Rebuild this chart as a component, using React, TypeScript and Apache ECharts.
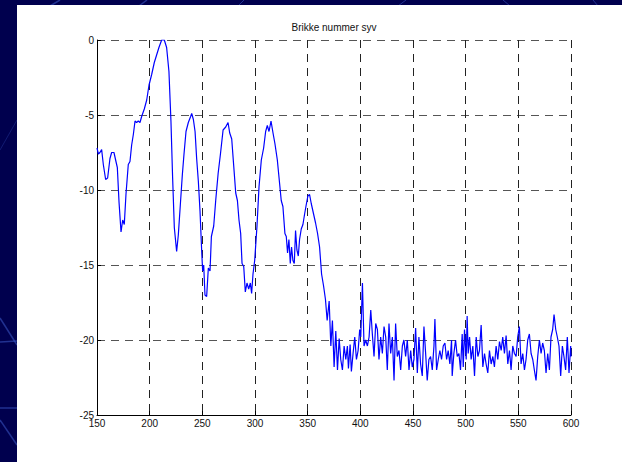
import React, { useEffect, useRef } from "react";
import * as echarts from "echarts";

const chartTitle = "Brikke nummer syv";

const xValues: number[] = [
  150, 151.3, 152.8, 154.4, 156.0, 158.2, 160.1, 162.3, 163.9, 166.1, 168.0, 169.3, 170.9, 172.8, 174.4, 175.9,
  177.5, 179.7, 181.3, 182.9, 184.5, 186.1, 187.6, 189.2, 190.8, 192.4, 194.9, 197.2, 199.4, 201.9, 204.4, 206.6,
  208.8, 211.4, 213.9, 216.1, 218.3, 220.2, 221.8, 223.4, 225.6, 227.2, 229.1, 231.0, 232.6, 234.5, 236.7, 238.9,
  239.9, 241.5, 243.1, 244.6, 246.2, 247.8, 249.4, 250.3, 251.3, 252.5, 254.1, 255.7, 257.3,
  258.6, 260.8, 262.7, 265.0, 267.2, 269.7, 272.2, 274.4, 276.0, 277.9, 279.8, 281.7, 283.3, 284.8, 286.4, 287.7,
  289.3, 290.8, 292.4, 294.0, 295.6, 296.8, 298.1, 299.7, 301.9, 303.8, 306.0, 308.2, 310.1, 311.7, 313.3, 315.2,
  317.1, 318.9, 321.2, 323.4, 324.9, 326.5, 328.4, 329.7, 330.9, 332.2, 333.5, 334.7, 336.0, 337.3, 338.5, 339.8,
  341.1, 342.3, 343.9, 345.5, 347.1, 348.6, 350.2, 351.8, 353.4, 355.6, 357.5, 359.4, 361.3, 363.2, 365.1, 366.9,
  368.5,
  370.4, 372.0, 373.5, 375.1, 376.7, 378.3, 379.9, 381.4, 383.0, 384.6, 386.2, 387.7, 388.7, 390.3, 391.5, 393.1,
  394.7, 396.3, 397.9, 399.4, 400.4, 402.0, 403.5, 405.1, 406.7, 408.3, 409.9, 411.4, 413.0, 414.6, 416.2, 417.7,
  419.3, 420.9, 422.5, 424.1, 425.6, 427.2, 428.8, 430.4, 432.0, 433.5, 435.1, 436.7, 438.3, 439.9, 441.4, 443.0,
  444.6, 446.2, 447.8, 449.3, 450.9, 452.5, 454.1, 455.6, 457.2, 458.8, 460.4, 462.0, 463.5, 465.1, 466.7, 468.3,
  469.9, 470.8, 472.4, 474.0, 475.5, 477.1, 478.7, 480.3, 481.9, 483.4, 485.0, 486.6,
  487.2, 488.8, 490.4, 492.0, 493.6, 495.1, 496.7, 497.7, 498.9, 500.5, 501.4, 502.4, 503.7, 505.2, 506.8, 508.4,
  510.0, 511.6, 513.1, 514.7, 516.3, 517.9, 519.4, 521.0, 522.6, 524.2, 525.8, 527.3, 528.9, 530.5, 532.1, 533.7,
  535.2, 536.8, 538.4, 540.0, 541.6, 543.1, 544.7, 546.3, 547.9, 549.4, 551.0, 552.6, 554.2, 555.8, 557.3, 558.9,
  560.5, 562.1, 563.7, 565.2, 566.8, 568.4, 570.0, 571.6, 573.1, 574.7, 576.3, 577.9, 579.5, 581.0, 582.6, 583.9,
  585.5, 587.0, 588.6, 590.2, 591.8, 593.3, 594.9, 596.5, 598.1, 599.7, 600,
];

const yValues: number[] = [
  -7.2, -7.6, -7.5, -7.3, -8.3, -9.3, -9.2, -7.9, -7.5, -7.5, -8.1, -8.5, -10.8, -12.8, -12.0, -12.3,
  -10.3, -8.3, -8.1, -7.0, -6.3, -5.4, -5.5, -5.4, -5.5, -5.1, -4.6, -4.0, -3.0, -2.3, -1.5, -1.0,
  -0.5, 0, 0, -0.5, -2.1, -5.4, -9.2, -12.5, -14.1, -13.0, -11.0, -9.0, -7.6, -6.1, -5.5, -5.1,
  -4.9, -5.3, -6.1, -7.9, -9.4, -11.4, -14.1, -15.4, -15.0, -17.0, -17.1, -15.2, -15.4,
  -13.1, -12.4, -10.7, -8.9, -7.6, -6.0, -5.8, -5.5, -6.2, -6.6, -8.4, -10.2, -10.7, -12.0, -12.9, -14.9,
  -15.1, -16.8, -16.2, -16.6, -16.2, -16.9, -15.6, -14.7, -12.4, -9.8, -8.0, -7.2, -6.1, -5.7, -6.1, -5.4,
  -6.2, -6.9, -8.0, -9.6, -10.7, -11.1, -12.9, -13.1, -14.2, -13.3, -14.9, -13.8, -14.7, -14.9, -12.7, -14.0,
  -14.4, -13.3, -12.6, -12.3, -11.6, -11.0, -10.4, -10.3, -10.9, -11.6, -12.2, -12.9, -13.8, -15.6, -16.4, -17.3,
  -18.7,
  -17.4, -20.4, -18.7, -21.8, -19.4, -22.0, -19.9, -21.3, -22.0, -20.4, -21.3, -20.4, -21.9, -20.3, -22.1, -20.9,
  -19.8, -21.3, -20.7, -19.3, -19.8, -16.2, -20.4, -20.0, -20.4, -19.8, -18.0, -19.6, -21.1, -18.9, -19.3, -21.3,
  -19.8, -20.9, -19.1, -19.8, -22.0, -18.9, -20.9, -19.8, -22.7, -18.9, -21.1, -20.7, -22.0, -20.4, -20.0, -21.1,
  -20.0, -22.0, -20.7, -21.8, -21.3, -19.2, -22.2, -19.8, -21.6, -22.4, -19.1, -20.9, -22.7, -21.3, -21.1, -22.0,
  -20.4, -18.6, -22.0, -21.3, -20.7, -21.3, -20.4, -20.2, -21.3, -20.7, -21.6, -20.0,
  -22.4, -20.9, -20.0, -21.1, -20.9, -22.0, -19.6, -21.8, -19.3, -21.3, -18.4, -20.9, -19.8, -21.3, -20.4, -22.4,
  -19.8, -21.1, -20.7, -19.0, -21.8, -20.9, -21.6, -22.2, -20.7, -21.6, -21.1, -21.8, -20.4, -21.3, -20.1, -20.7,
  -19.8, -20.9, -19.7, -21.6, -20.7, -22.0, -20.4, -20.9, -21.1, -19.8, -19.1, -21.6, -20.9, -22.0, -21.3, -20.0,
  -19.6, -20.9, -21.3, -22.0, -22.7, -21.1, -20.0, -20.9, -20.2, -20.7, -22.2, -20.9, -22.0, -19.8, -19.3, -18.3,
  -19.3, -19.8, -20.4, -22.4, -20.4, -21.1, -22.0, -19.8, -22.2, -20.4, -21.1,
];

const W = 622;
const H = 462;

export default function App() {
  const ref = useRef<HTMLDivElement>(null);

  useEffect(() => {
    if (!ref.current) return;
    const chart = echarts.init(ref.current, null, { renderer: "svg" });
    const data = xValues.map((x, i) => [x, yValues[i]]);
    const decoColor = "rgba(60,90,200,0.55)";
    const font = "Liberation Sans, Arial, sans-serif";

    chart.setOption({
      animation: false,
      backgroundColor: "#00004e",
      graphic: [
        { type: "line", z: -10, shape: { x1: 50, y1: 6, x2: 60, y2: 0 }, style: { stroke: decoColor, lineWidth: 1.5 } },
        { type: "line", z: -10, shape: { x1: 139, y1: 6, x2: 147, y2: 0 }, style: { stroke: decoColor, lineWidth: 1.5 } },
        { type: "line", z: -10, shape: { x1: 238, y1: 6, x2: 244, y2: 0 }, style: { stroke: decoColor, lineWidth: 1 } },
        { type: "line", z: -10, shape: { x1: 398, y1: 6, x2: 406, y2: 0 }, style: { stroke: decoColor, lineWidth: 1 } },
        { type: "line", z: -10, shape: { x1: 503, y1: 0, x2: 510, y2: 6 }, style: { stroke: decoColor, lineWidth: 1 } },
        { type: "line", z: -10, shape: { x1: 593, y1: 0, x2: 598, y2: 6 }, style: { stroke: decoColor, lineWidth: 1 } },
        { type: "line", z: -10, shape: { x1: 0, y1: 318, x2: 17, y2: 345 }, style: { stroke: decoColor, lineWidth: 1.5 } },
        { type: "line", z: -10, shape: { x1: 0, y1: 342, x2: 17, y2: 341 }, style: { stroke: decoColor, lineWidth: 1.5 } },
        { type: "line", z: -10, shape: { x1: 0, y1: 408, x2: 17, y2: 408 }, style: { stroke: decoColor, lineWidth: 1.5 } },
        { type: "line", z: -10, shape: { x1: 0, y1: 420, x2: 17, y2: 445 }, style: { stroke: decoColor, lineWidth: 1.5 } },
        { type: "line", z: -10, shape: { x1: 0, y1: 150, x2: 17, y2: 120 }, style: { stroke: "rgba(60,90,200,0.3)", lineWidth: 1 } },
        { type: "rect", z: -5, shape: { x: 17, y: 5, width: W - 17, height: H - 5 }, style: { fill: "#ffffff" } },
        {
          type: "text",
          z: 10,
          x: 334,
          y: 27,
          style: {
            text: chartTitle,
            fill: "#111",
            font: `10px ${font}`,
            textAlign: "center",
            textVerticalAlign: "middle",
          },
        },
      ],
      grid: { left: 97, right: 51, top: 40, bottom: 47, containLabel: false },
      xAxis: {
        type: "value",
        min: 150,
        max: 600,
        interval: 50,
        axisLine: { show: true, onZero: false, lineStyle: { color: "#000", width: 1 } },
        axisTick: { show: true, inside: true, length: 4, lineStyle: { color: "#000" } },
        axisLabel: { color: "#111", fontSize: 10, fontFamily: font, margin: 3 },
        splitLine: { show: true, lineStyle: { color: "#222", width: 1, type: [8, 6] } },
      },
      yAxis: {
        type: "value",
        min: -25,
        max: 0,
        interval: 5,
        axisLine: { show: true, onZero: false, lineStyle: { color: "#000", width: 1 } },
        axisTick: { show: true, inside: true, length: 4, lineStyle: { color: "#000" } },
        axisLabel: { color: "#111", fontSize: 10, fontFamily: font, margin: 3 },
        splitLine: { show: true, lineStyle: { color: "#555", width: 1, type: [8, 6] } },
      },
      series: [
        {
          type: "line",
          data,
          showSymbol: false,
          symbol: "none",
          clip: true,
          lineStyle: { color: "#0000ff", width: 1.2 },
          z: 5,
        },
      ],
    });
    return () => chart.dispose();
  }, []);

  return (
    <div
      ref={ref}
      style={{ position: "fixed", left: 0, top: 0, width: W, height: H }}
    />
  );
}
